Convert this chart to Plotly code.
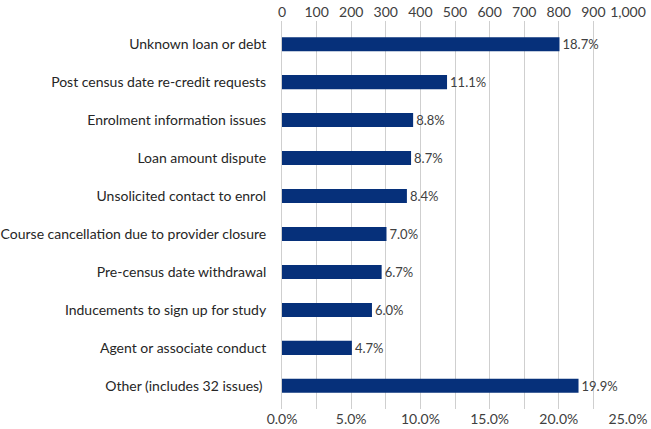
import plotly.graph_objects as go

# Issue categories, top to bottom
categories = [
    "Unknown loan or debt",
    "Post census date re-credit requests",
    "Enrolment information issues",
    "Loan amount dispute",
    "Unsolicited contact to enrol",
    "Course cancellation due to provider closure",
    "Pre-census date withdrawal",
    "Inducements to sign up for study",
    "Agent or associate conduct",
    "Other (includes 32 issues) ",
]
# number of complaints (top axis) and share of all complaints (labels)
counts = [802, 477, 379, 373, 361, 302, 288, 260, 202, 857]
shares = [18.7, 11.1, 8.8, 8.7, 8.4, 7.0, 6.7, 6.0, 4.7, 19.9]

labels = [f"{s:.1f}%" for s in shares]
font = "Lato, 'Open Sans', sans-serif"

fig = go.Figure()
fig.add_trace(go.Bar(
    y=categories,
    x=counts,
    orientation="h",
    width=0.37,
    marker=dict(color="#06307a", line=dict(width=0)),
    text=labels,
    textposition="outside",
    constraintext="none",
    textfont=dict(size=13, color="#404040"),
    cliponaxis=False,
    xaxis="x",
))
# dummy trace so the bottom percentage axis is drawn
fig.add_trace(go.Scatter(
    y=categories,
    x=[s / 100 for s in shares],
    mode="markers",
    marker=dict(opacity=0),
    hoverinfo="skip",
    showlegend=False,
    xaxis="x2",
))

fig.update_layout(
    width=651,
    height=429,
    margin=dict(l=282, r=23, t=21, b=20),
    plot_bgcolor="white",
    paper_bgcolor="white",
    showlegend=False,
    font=dict(family=font, size=14, color="#404040"),
    xaxis=dict(
        side="top",
        range=[0, 1000],
        dtick=100,
        tickformat=",",
        showgrid=True,
        gridcolor="#cfcfcf",
        gridwidth=1,
        zeroline=False,
        showline=False,
        ticks="",
        automargin=False,
        tickfont=dict(size=14, color="#404040"),
    ),
    xaxis2=dict(
        overlaying="x",
        side="bottom",
        range=[0, 0.25],
        dtick=0.05,
        tickformat=".1%",
        showgrid=False,
        zeroline=False,
        showline=False,
        ticks="",
        automargin=False,
        tickfont=dict(size=14, color="#404040"),
    ),
    yaxis=dict(
        autorange="reversed",
        showgrid=False,
        showline=True,
        linecolor="#cfcfcf",
        ticks="",
        automargin=False,
        ticklabelstandoff=12,
        tickfont=dict(size=14, color="#262626"),
    ),
)

# drop the browser's default body margin so the chart sits at the page corner
fig.write_html(
    "out.html",
    config={"displayModeBar": False},
    post_script="document.body.style.margin='0';",
)
